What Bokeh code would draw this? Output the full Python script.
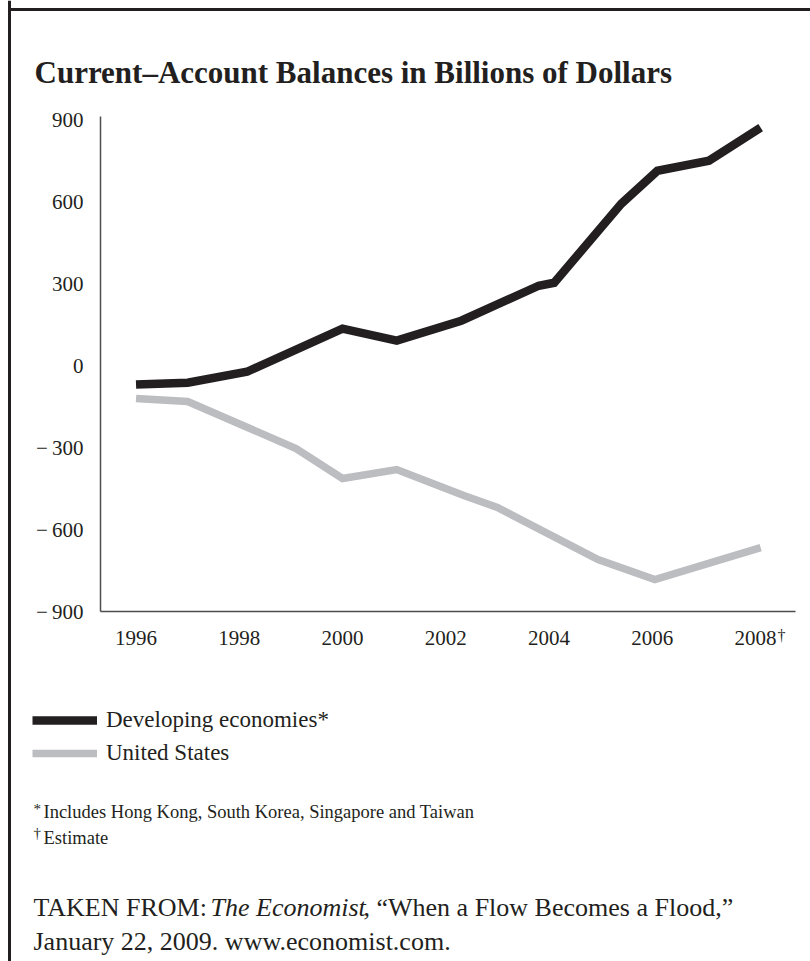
from bokeh.plotting import figure
from bokeh.models import Label, BoxAnnotation, Legend, LegendItem, FixedTicker, Range1d
from bokeh.embed import file_html
from bokeh.resources import INLINE

# ---- data ----
dev_years = [1996.0, 1997.0, 1998.15, 2000.0, 2001.05, 2002.3, 2003.8, 2004.1, 2005.4, 2006.1, 2007.1, 2008.1]
dev_vals = [-69, -62, -22, 136, 92, 165, 293, 304, 593, 714, 751, 872]
us_years = [1996.0, 1997.0, 1999.1, 2000.0, 2001.05, 2002.35, 2003.0, 2004.95, 2006.05, 2008.1]
us_vals = [-120, -131, -303, -413, -380, -475, -519, -710, -783, -666]
x_ticks = [1996, 1998, 2000, 2002, 2004, 2006, 2008]
x_tick_labels = ["1996", "1998", "2000", "2002", "2004", "2006", "2008"]
y_ticks = [-900, -600, -300, 0, 300, 600, 900]
y_tick_labels = ["\u2212\u2009900", "\u2212\u2009600", "\u2212\u2009300", "0", "300", "600", "900"]
series_names = ["Developing economies*", "United States"]

TITLE = "Current\u2013Account Balances in Billions of Dollars"
INK = "#231f20"
GRAY = "#bcbdc0"
SERIF = "Liberation Serif"

W, H = 810, 961
# axis extents (data units) and the canvas-wide ranges that put them at the reference's pixels
X_AX0, X_AX1 = 1995.312, 2008.775   # x-axis spans page px 100 .. 795
Y_AX0, Y_AX1 = -900, 912.8          # y-axis spans page px 611 .. 116
xpp = (X_AX1 - X_AX0) / 695.0
ypp = (Y_AX1 - Y_AX0) / 495.0
x_range = Range1d(X_AX0 - 100 * xpp, X_AX1 + (W - 795) * xpp)
y_range = Range1d(Y_AX0 - (H - 611) * ypp, Y_AX1 + 116 * ypp)

p = figure(width=W, height=H, min_border=0, x_range=x_range, y_range=y_range,
           output_backend="svg", toolbar_location=None)
p.xgrid.visible = False
p.ygrid.visible = False
p.outline_line_color = None
p.background_fill_color = "white"
p.border_fill_color = "white"

for ax in (p.xaxis[0], p.yaxis[0]):
    ax.axis_line_color = "#4d4d4d"
    ax.axis_line_width = 1.5
    ax.major_tick_line_color = None
    ax.minor_tick_line_color = None
    ax.major_tick_out = 0
    ax.major_tick_in = 0
    ax.minor_tick_out = 0
    ax.minor_tick_in = 0
    ax.major_label_text_font = SERIF
    ax.major_label_text_font_size = "21px"
    ax.major_label_text_color = INK

p.xaxis.fixed_location = Y_AX0
p.xaxis.bounds = (X_AX0, X_AX1)
p.xaxis.ticker = FixedTicker(ticks=x_ticks)
p.xaxis.major_label_overrides = {t: l for t, l in zip(x_ticks, x_tick_labels)}
p.xaxis.major_label_standoff = 19
p.yaxis.fixed_location = X_AX0
p.yaxis.bounds = (Y_AX0, Y_AX1)
p.yaxis.ticker = FixedTicker(ticks=y_ticks)
p.yaxis.major_label_overrides = {t: l for t, l in zip(y_ticks, y_tick_labels)}
p.yaxis.major_label_standoff = 17

r_dev = p.line(dev_years, dev_vals, line_color=INK, line_width=8.5, line_join="miter")
r_us = p.line(us_years, us_vals, line_color=GRAY, line_width=7.5, line_join="miter")

legend = Legend(items=[LegendItem(label=series_names[0], renderers=[r_dev]),
                       LegendItem(label=series_names[1], renderers=[r_us])],
                location=(32, H - 766),
                orientation="vertical", glyph_width=65, glyph_height=24, label_height=24,
                spacing=7, padding=0, margin=0, label_standoff=9,
                label_text_font=SERIF, label_text_font_size="23px", label_text_color=INK,
                border_line_color=None, background_fill_alpha=0)
p.add_layout(legend)

# page border: only the top and left edges are visible in the reference
for l, r, t, b in [(7.5, 10.5, H, 0), (7.5, W + 50, H - 7.5, H - 10.5)]:
    p.add_layout(BoxAnnotation(left=l, right=r, top=t, bottom=b,
                               left_units="screen", right_units="screen",
                               top_units="screen", bottom_units="screen",
                               fill_color=INK, fill_alpha=1.0, line_alpha=0))


def lab(text, x, baseline, size, style="normal", align="left"):
    p.add_layout(Label(x=x, y=H - baseline, x_units="screen", y_units="screen",
                       text=text, text_font=SERIF, text_font_size=f"{size}px", text_font_style=style,
                       text_color=INK, text_align=align, text_baseline="alphabetic"))


lab(TITLE, 34, 72, 31, "bold")
lab("\u2020", 777, 635, 16)
lab("*", 33, 808, 15)
lab("Includes Hong Kong, South Korea, Singapore and Taiwan", 43, 811, 18.5)
lab("\u2020", 33, 832, 15)
lab("Estimate", 43, 837, 18.5)
lab("TAKEN FROM: ", 33, 907, 26)
lab("The Economist", 210, 907, 26, "italic")
lab(", \u201cWhen a Flow Becomes a Flood,\u201d", 363, 907, 26)
lab("January 22, 2009. www.economist.com.", 33, 941, 26)

open("out.html", "w").write(file_html(p, INLINE))
